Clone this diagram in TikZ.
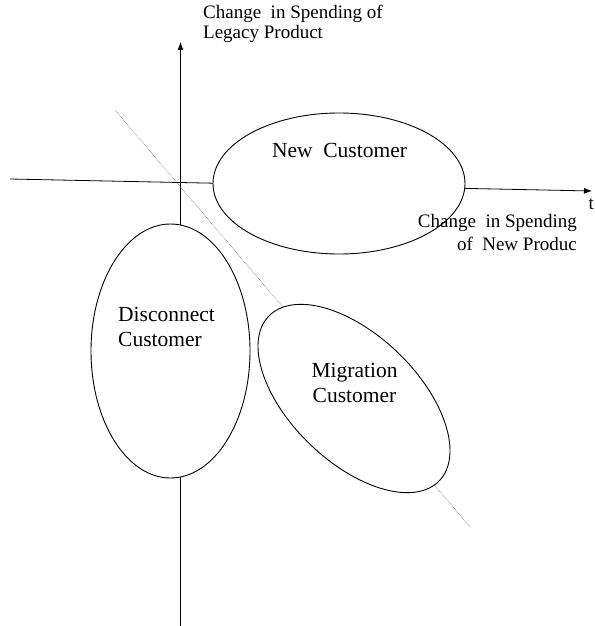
\documentclass[tikz,border=0pt]{standalone}
\usepackage{fontspec}
\setmainfont{Liberation Serif}
\usetikzlibrary{arrows.meta,positioning,shapes.geometric}
\tikzset{
  custblob/.style={draw, ellipse, fill=white, line width=0.9pt, inner sep=0pt},
  axislbl/.style={inner sep=0pt, font=\fontsize{19}{20}\selectfont},
  blobtext/.style={inner sep=0pt, font=\fontsize{21.5}{24.5}\selectfont},
  axisarr/.style={-{Latex[length=8pt, width=6pt]}, line width=0.8pt},
  splitline/.style={densely dotted, black!60, line width=0.6pt},
}

\begin{document}
\begin{tikzpicture}[x=1pt, y=1pt]
  \useasboundingbox (0,0) rectangle (594,-626);

  % axes and the dividing line
  \coordinate (xstart) at (10,-179);
  \coordinate (xend) at (592,-191);
  \coordinate (ystart) at (180.5,-626);
  \coordinate (yend) at (180.5,-42);
  \coordinate (cutA) at (115,-110);
  \coordinate (cutB) at (471,-528);

  \draw[axisarr] (xstart) -- (xend);
  \draw[axisarr] (ystart) -- (yend);
  \draw[splitline] (cutA) -- (cutB);

  % customer groups
  \node[custblob, minimum width=252pt, minimum height=141pt]
    (newcust) at (339,-183.5) {};
  \node[custblob, minimum width=159pt, minimum height=254pt]
    (disccust) at (170.5,-351) {};
  \node[custblob, minimum width=237pt, minimum height=127pt, rotate=-44]
    (migcust) at (354,-398.5) {};

  % base sits on the last line of each text
  \node[blobtext, anchor=base] (newtxt) at (339.5,-157) {New~ Customer};
  \node[blobtext, anchor=base west, align=left] (disctxt) at (118,-346)
    {Disconnect\\Customer};
  \node[blobtext, anchor=base, align=center] (migtxt) at (354.5,-402)
    {Migration\\Customer};

  % axis labels
  \node[axislbl, anchor=base west, align=left] (ylbl) at (203,-38)
    {Change~ in Spending of\\Legacy Product};
  \node[axislbl, anchor=base east] (tlbl) at (594,-209) {t};
  \node[axislbl, anchor=base east, align=right] (xlbl) at (577,-250)
    {Change~ in Spending\\[3pt]of~ New Produc};
\end{tikzpicture}
\end{document}
